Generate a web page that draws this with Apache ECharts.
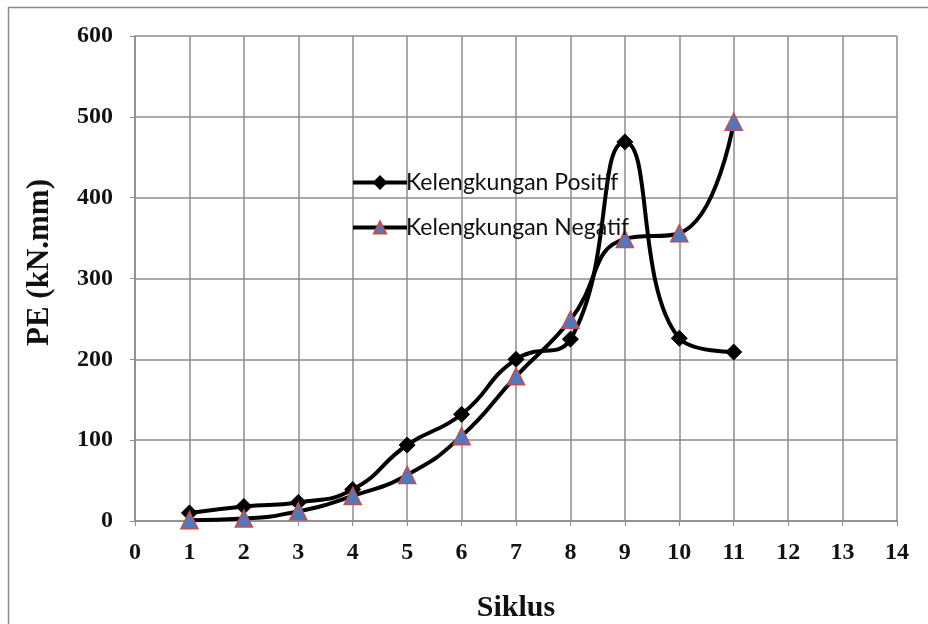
<!DOCTYPE html>
<html>
<head>
<meta charset="utf-8">
<script src="https://cdn.jsdelivr.net/npm/echarts@6/dist/echarts.min.js"></script>
<style>
  html, body { margin: 0; padding: 0; background: #fff; }
  #chart { width: 928px; height: 624px; }
</style>
</head>
<body>
<div id="chart"></div>
<script>
// Cycle numbers (Siklus) and energy values PE in kN.mm
const siklus = [1, 2, 3, 4, 5, 6, 7, 8, 9, 10, 11];
const kelengkunganPositif = [10, 18, 23, 39, 94, 132, 200, 225, 469, 226, 209];
const kelengkunganNegatif = [1, 3, 12, 31, 57, 105, 179, 249, 349, 356, 494];
const seriesNames = ['Kelengkungan Positif', 'Kelengkungan Negatif'];
const xTitle = 'Siklus';
const yTitle = 'PE (kN.mm)';

const pairs = (xs, ys) => xs.map((x, i) => [x, ys[i]]);

const serif = '"Liberation Serif", "Times New Roman", serif';
const gridColor = '#8c8c8c';

const chart = echarts.init(document.getElementById('chart'), null, { renderer: 'canvas' });
chart.setOption({
  backgroundColor: '#ffffff',
  animation: false,
  graphic: [{
    type: 'rect',
    shape: { x: 8.5, y: 7.5, width: 960, height: 660 },
    style: { fill: 'none', stroke: '#8a8a8a', lineWidth: 1.5 },
    silent: true
  }],
  grid: { left: 135, right: 31, top: 36, bottom: 103, containLabel: false, outerBoundsMode: 'none' },
  legend: {
    orient: 'vertical',
    left: 346,
    top: 166,
    itemWidth: 54,
    itemHeight: 15,
    itemGap: 22,
    lineStyle: { width: 4, color: '#000' },
    textStyle: { fontFamily: 'Lato, "Open Sans", sans-serif', fontSize: 23, color: '#111', padding: [0, 0, 0, -6] },
    data: seriesNames
  },
  xAxis: {
    type: 'value',
    min: 0, max: 14, interval: 1,
    name: xTitle,
    nameLocation: 'middle',
    nameGap: 72,
    nameTextStyle: { fontFamily: serif, fontWeight: 'bold', fontSize: 30, color: '#111' },
    axisLine: { show: true, lineStyle: { color: gridColor, width: 1.5 } },
    axisTick: { show: true, length: 5, lineStyle: { color: gridColor } },
    axisLabel: { margin: 20, fontFamily: serif, fontWeight: 'bold', fontSize: 24, color: '#111' },
    splitLine: { show: true, lineStyle: { color: gridColor, width: 1.5 } }
  },
  yAxis: {
    type: 'value',
    min: 0, max: 600, interval: 100,
    name: yTitle,
    nameLocation: 'middle',
    nameGap: 80,
    nameRotate: 90,
    nameTextStyle: { fontFamily: serif, fontWeight: 'bold', fontSize: 31, color: '#111', padding: [0, 0, 0, 32] },
    axisLine: { show: true, lineStyle: { color: gridColor, width: 1.5 } },
    axisTick: { show: true, length: 5, lineStyle: { color: gridColor } },
    axisLabel: { margin: 22, fontFamily: serif, fontWeight: 'bold', fontSize: 24, color: '#111' },
    splitLine: { show: true, lineStyle: { color: gridColor, width: 1.5 } }
  },
  series: [
    {
      name: seriesNames[0],
      type: 'line',
      smooth: 0.5,
      data: pairs(siklus, kelengkunganPositif),
      symbol: 'diamond',
      symbolSize: 16,
      lineStyle: { color: '#000', width: 4 },
      itemStyle: { color: '#000', borderColor: '#000', borderWidth: 1 },
      z: 2
    },
    {
      name: seriesNames[1],
      type: 'line',
      smooth: 0.5,
      data: pairs(siklus, kelengkunganNegatif),
      symbol: 'triangle',
      symbolSize: 17,
      lineStyle: { color: '#000', width: 4 },
      itemStyle: { color: '#4f78be', borderColor: '#c0504d', borderWidth: 1.5 },
      z: 3
    }
  ]
});
</script>
</body>
</html>
